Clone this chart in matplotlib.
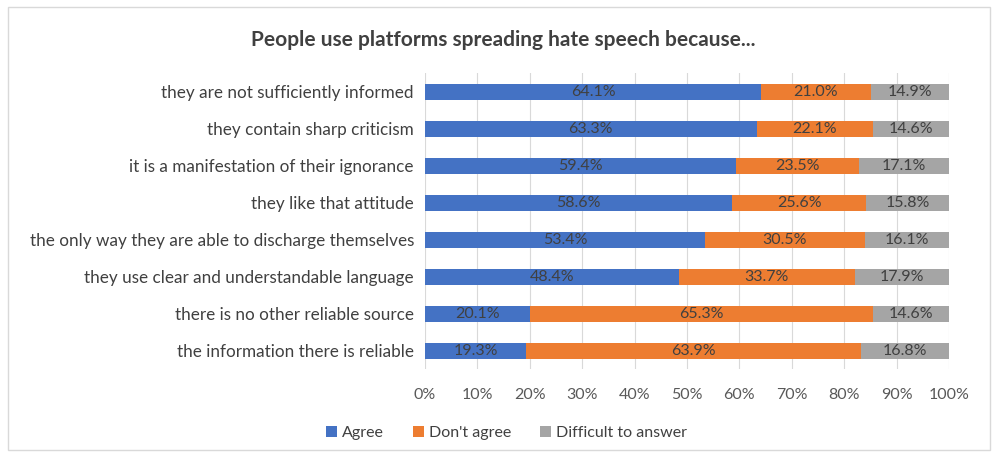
import matplotlib.pyplot as plt
from matplotlib.patches import Rectangle

plt.rcParams['font.family'] = ['Lato', 'DejaVu Sans']

categories = [
    "they are not sufficiently informed",
    "they contain sharp criticism",
    "it is a manifestation of their ignorance",
    "they like that attitude",
    "the only way they are able to discharge themselves",
    "they use clear and understandable language",
    "there is no other reliable source",
    "the information there is reliable",
]
agree = [64.1, 63.3, 59.4, 58.6, 53.4, 48.4, 20.1, 19.3]
dont_agree = [21.0, 22.1, 23.5, 25.6, 30.5, 33.7, 65.3, 63.9]
difficult = [14.9, 14.6, 17.1, 15.8, 16.1, 17.9, 14.6, 16.8]

series = [("Agree", agree, "#4472C4"),
          ("Don't agree", dont_agree, "#ED7D31"),
          ("Difficult to answer", difficult, "#A5A5A5")]

fig = plt.figure(figsize=(9.97, 4.57), dpi=100)
ax = fig.add_axes([0.4263, 0.1915, 0.5256, 0.6477])

y = list(range(len(categories)))
left = [0.0] * len(categories)
for name, vals, col in series:
    bars = ax.barh(y, vals, left=left, height=0.42, color=col, label=name, zorder=2)
    for b, v in zip(bars, vals):
        ax.text(b.get_x() + b.get_width() / 2, b.get_y() + b.get_height() / 2,
                f"{v:.1f}%", ha='center', va='center', fontsize=11.5, color='#404040')
    left = [l + v for l, v in zip(left, vals)]

ax.set_ylim(len(categories) - 0.5, -0.5)
ax.set_xlim(0, 100)
ax.set_xticks(range(0, 101, 10))
ax.set_xticklabels([f"{t}%" for t in range(0, 101, 10)], fontsize=11.5, color='#595959')
ax.set_yticks(y)
ax.set_yticklabels(categories, fontsize=12.3, color='#404040')
ax.tick_params(axis='both', length=0, pad=8)
ax.tick_params(axis='x', pad=13)
ax.grid(axis='x', color='#D9D9D9', linewidth=0.8, zorder=0)
for s in ax.spines.values():
    s.set_visible(False)

fig.text(0.505, 0.912, "People use platforms spreading hate speech because...",
         ha='center', va='center', fontsize=15, fontweight='bold', color='#404040')

fig.legend(loc='center', bbox_to_anchor=(0.508, 0.052), ncol=3, frameon=False,
           fontsize=11.5, handlelength=0.7, handleheight=0.7, handletextpad=0.3,
           columnspacing=1.8, labelcolor='#404040')

fig.patches.append(Rectangle((0.008, 0.015), 0.985, 0.97, transform=fig.transFigure,
                             fill=False, edgecolor='#D9D9D9', linewidth=1))

fig.savefig("out.png", dpi=100)
